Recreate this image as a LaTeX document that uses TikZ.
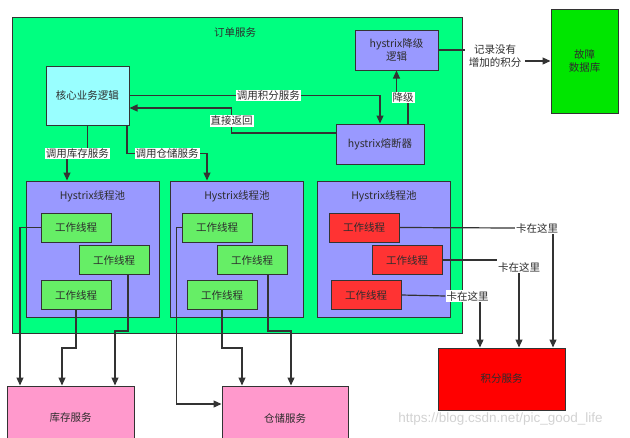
\documentclass[tikz,border=0pt]{standalone}
\usepackage{fontspec}
\setmainfont{Noto Sans CJK SC}
\newfontfamily\wmfont{Liberation Sans}
\usetikzlibrary{arrows.meta,calc}
\definecolor{edge}{RGB}{51,51,51}
\definecolor{txt}{RGB}{45,45,45}
\definecolor{ordergreen}{RGB}{0,255,128}
\definecolor{corecyan}{RGB}{153,255,255}
\definecolor{poolblue}{RGB}{153,153,255}
\definecolor{workgreen}{RGB}{102,238,102}
\definecolor{stuckred}{RGB}{255,51,51}
\definecolor{dbgreen}{RGB}{0,230,0}
\definecolor{svcpink}{RGB}{255,153,204}
\def\wk{工作线程}
\def\kz{卡在这里}

\begin{document}
\begin{tikzpicture}[x=1pt,y=-1pt,
every node/.style={align=center,font=\fontsize{10.5}{13}\selectfont,text=txt},
box/.style={draw=edge,line width=1pt,inner sep=0pt},
pool/.style={box,fill=poolblue,minimum width=133pt,minimum height=136pt},
worker/.style={box,fill=workgreen,minimum width=70pt,minimum height=29pt},
stuck/.style={worker,fill=stuckred},
svc/.style={box,fill=svcpink,minimum width=126pt,minimum height=64pt},
lbl/.style={fill=white,inner sep=1pt},
conn/.style={draw=edge,line width=1.2pt},
arr/.style={conn,-{Triangle[length=8pt,width=7pt]}}
]
\clip (0,0) rectangle (630,437);
% order service
\node[box,fill=ordergreen,minimum width=450pt,minimum height=316pt] (order) at (237,175) {};
\node (ordertitle) at (235,33) {订单服务};
\node[box,fill=corecyan,minimum width=83pt,minimum height=59pt] (core) at (87.5,95.5) {核心业务逻辑};
\node[box,fill=poolblue,minimum width=83pt,minimum height=40pt] (fallback) at (396.5,50) {hystrix降级\\逻辑};
\node[box,fill=poolblue,minimum width=88pt,minimum height=40pt] (breaker) at (380,144) {hystrix熔断器};
\node[box,fill=dbgreen,minimum width=67pt,minimum height=104pt] (faultdb) at (584.5,61) {故障\\数据库};
\node (record) at (495,56.5) {记录没有\\增加的积分};

% thread pools
\node[pool] (pool1) at (92.5,249) {};
\node[pool] (pool2) at (237,249) {};
\node[pool] (pool3) at (384,249) {};
\foreach \p in {pool1,pool2,pool3}
  \node at ($(\p.north)+(0,16)$) {Hystrix线程池};
\node[worker] (p1w1) at (76,227.5) {\wk};
\node[worker] (p1w2) at (114,260) {\wk};
\node[worker] (p1w3) at (76,295) {\wk};
\node[worker] (p2w1) at (217,227.5) {\wk};
\node[worker] (p2w2) at (252,260) {\wk};
\node[worker] (p2w3) at (222,295) {\wk};
\node[stuck] (p3w1) at (364,227.5) {\wk};
\node[stuck] (p3w2) at (407,260) {\wk};
\node[stuck] (p3w3) at (366,295) {\wk}; % <- End pools

% services below
\node[svc,minimum width=127pt] (stock) at (70.5,418) {库存服务};
\node[svc] (storage) at (285,418) {仓储服务};
\node[box,fill=red,minimum width=127pt,minimum height=62pt] (points) at (501.5,379) {积分服务};
\node[text=gray!35,font=\wmfont\fontsize{13.5}{16}\selectfont] (wm) at (500.5,419) {https://blog.csdn.net/pic\_good\_life};

\node[lbl] (stuck1) at (537,228) {\kz};
\node[lbl] (stuck2) at (519,267) {\kz};
\node[lbl] (stuck3) at (467.5,296) {\kz};

% calls inside order service
\draw[arr] (core.east) -| node[lbl,pos=0.277] {调用积分服务} (breaker.north);
\draw[arr] ([yshift=11pt]breaker.west) -- ++(-104,0) |- node[lbl,pos=0.24] {直接返回} ([yshift=-12.5pt]core.east);
\draw[arr] ([xshift=28pt]breaker.north) -- ++(0,-26) node[lbl,xshift=-5pt] {降级} -| (fallback.south);
\draw[conn] (fallback.east) -- (fallback.east -| record.west);
\draw[arr] (record.east |- faultdb.west) -- (faultdb.west);
\draw[arr] (core.south) -- ++(0,28) -| node[lbl,pos=0.25] {调用库存服务} ([xshift=-25.5pt]pool1.north);
\draw[arr] ([xshift=39.5pt]core.south) -- ++(0,28) -| node[lbl,pos=0.25] {调用仓储服务} ([xshift=-30pt]pool2.north);

% workers to stock / storage
\draw[arr] (p1w1.west) -| ([xshift=-50.5pt]stock.north);
\draw[arr] (p1w3.south) -- ++(0,38) -| ([xshift=-8.5pt]stock.north);
\draw[arr] ([xshift=14pt]p1w2.south) -- ++(0,56) -| ([xshift=44.5pt]stock.north);
\draw[arr] (p2w1.west) -- ++(-5,0) |- ([yshift=14pt]storage.west);
\draw[arr] (p2w3.south) -- ++(0,38) -| ([xshift=-43pt]storage.north);
\draw[arr] ([xshift=16pt]p2w2.south) -- ++(0,56) -| ([xshift=6pt]storage.north);

% stuck workers to points
\draw[conn] (p3w1.east) -- (stuck1.west);
\draw[conn] (p3w2.east) -- (p3w2.east -| stuck2.west);
\draw[conn] (p3w3.east) -- (stuck3.west);
\draw[arr] ($(stuck1.south)+(16,0)$) -- ([xshift=51.5pt]points.north);
\draw[arr] (stuck2.south) -- (stuck2.south |- points.north);
\draw[arr] ($(stuck3.south)+(12.5,0)$) -- ([xshift=-21.5pt]points.north);
\end{tikzpicture}
\end{document}
